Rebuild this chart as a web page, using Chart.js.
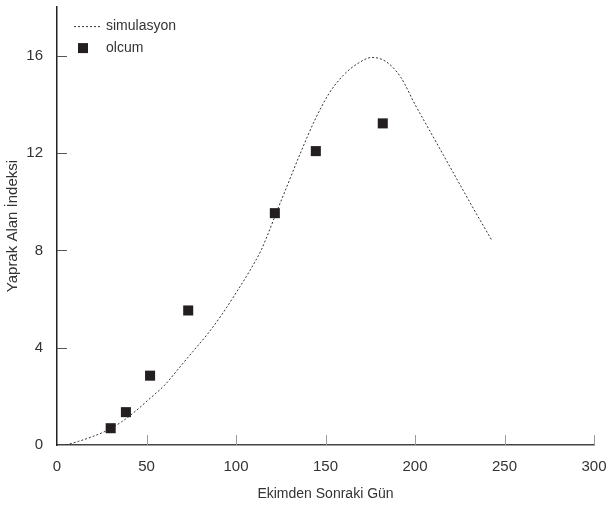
<!DOCTYPE html>
<html>
<head>
<meta charset="utf-8">
<script src="https://cdn.jsdelivr.net/npm/chart.js@4.4.0/dist/chart.umd.min.js"></script>
<style>
  html, body { margin: 0; padding: 0; background: #fff; }
  #kutu { width: 606px; height: 513px; }
</style>
</head>
<body>
<div id="kutu"><canvas id="grafik"></canvas></div>
<script>
// simulasyon egrisi (gun, yaprak alan indeksi)
const simGun = [5, 12, 20, 28, 36, 44, 52, 60, 68, 76, 84, 92, 100, 108, 114, 118, 122, 128, 136, 144, 152, 160, 168, 176, 184, 192, 200, 208, 216, 224, 232, 243];
const simLai = [0, 0.15, 0.35, 0.6, 0.95, 1.4, 1.92, 2.45, 3.15, 3.85, 4.55, 5.35, 6.25, 7.2, 8.0, 8.7, 9.45, 10.55, 12.0, 13.35, 14.45, 15.2, 15.68, 15.93, 15.75, 15.12, 14.0, 12.95, 11.9, 10.85, 9.8, 8.4];

// olcum noktalari
const olcGun = [30, 38.5, 52, 73.3, 121.7, 144.6, 182];
const olcLai = [0.69, 1.35, 2.85, 5.53, 9.53, 12.08, 13.22];

const xTikler = [50, 100, 150, 200, 250, 300];
const yTikler = [4, 8, 12, 16];

const yaziRengi = '#333';
const yazi = 'Liberation Sans, Arial, sans-serif';

// icerideki tik cizgileri ve sol ustteki aciklama
const ekCizim = {
  id: 'ekCizim',
  afterDraw(chart) {
    const c = chart.ctx;
    const a = chart.chartArea;
    const xs = chart.scales.x, ys = chart.scales.y;
    c.save();
    c.lineWidth = 1;
    c.strokeStyle = '#9a9a9a';
    xTikler.forEach(function (t) {
      const px = Math.round(xs.getPixelForValue(t)) + 0.5;
      c.beginPath(); c.moveTo(px, a.bottom); c.lineTo(px, a.bottom - 10); c.stroke();
    });
    c.strokeStyle = '#555';
    yTikler.forEach(function (t) {
      const py = Math.round(ys.getPixelForValue(t)) + 0.5;
      c.beginPath(); c.moveTo(a.left, py); c.lineTo(a.left + 10, py); c.stroke();
    });

    // aciklama
    c.setLineDash([2, 2]);
    c.strokeStyle = '#333';
    c.beginPath(); c.moveTo(a.left + 17, a.top + 19.5); c.lineTo(a.left + 43, a.top + 19.5); c.stroke();
    c.setLineDash([]);
    c.fillStyle = '#231f20';
    c.fillRect(a.left + 21, a.top + 36, 10, 10);
    c.fillStyle = yaziRengi;
    c.font = '14px ' + yazi;
    c.textBaseline = 'middle';
    c.textAlign = 'left';
    c.fillText('simulasyon', a.left + 49, a.top + 19);
    c.fillText('olcum', a.left + 49, a.top + 41);
    c.restore();
  }
};

new Chart(document.getElementById('grafik'), {
  type: 'scatter',
  data: {
    datasets: [{
      label: 'simulasyon',
      type: 'line',
      data: simGun.map(function (g, i) { return { x: g, y: simLai[i] }; }),
      borderColor: '#333',
      borderWidth: 1,
      borderDash: [2, 2],
      pointRadius: 0,
      cubicInterpolationMode: 'monotone',
      fill: false,
      order: 1
    }, {
      label: 'olcum',
      data: olcGun.map(function (g, i) { return { x: g, y: olcLai[i] }; }),
      pointStyle: 'rect',
      pointRadius: 7.1,
      pointHoverRadius: 7.1,
      backgroundColor: '#231f20',
      borderColor: '#231f20',
      borderWidth: 0,
      order: 0
    }]
  },
  options: {
    responsive: true,
    maintainAspectRatio: false,
    animation: false,
    layout: { padding: { top: 7, right: 12, left: 0, bottom: 0 } },
    plugins: {
      legend: { display: false },
      tooltip: { enabled: false }
    },
    scales: {
      x: {
        type: 'linear',
        min: 0,
        max: 300,
        grid: { display: false, drawTicks: false },
        border: { display: true, color: '#444', width: 1.5 },
        ticks: { stepSize: 50, padding: 13, color: yaziRengi, font: { family: yazi, size: 15 } },
        title: { display: true, text: 'Ekimden Sonraki Gün', color: yaziRengi, font: { family: yazi, size: 14 }, padding: { top: 4, bottom: 10 } },
        afterFit: function (s) { s.height = 68; s.paddingLeft = 0; s.paddingRight = 0; }
      },
      y: {
        type: 'linear',
        min: 0,
        max: 18,
        grid: { display: false, drawTicks: false },
        border: { display: true, color: '#222', width: 1.5 },
        ticks: { stepSize: 4, includeBounds: false, padding: 14, color: yaziRengi, font: { family: yazi, size: 15 } },
        title: { display: true, text: 'Yaprak Alan İndeksi', color: yaziRengi, font: { family: yazi, size: 15 }, padding: { top: 4, bottom: 4 } },
        afterFit: function (s) { s.width = 57; s.paddingTop = 0; s.paddingBottom = 0; }
      }
    }
  },
  plugins: [ekCizim]
});
</script>
</body>
</html>
